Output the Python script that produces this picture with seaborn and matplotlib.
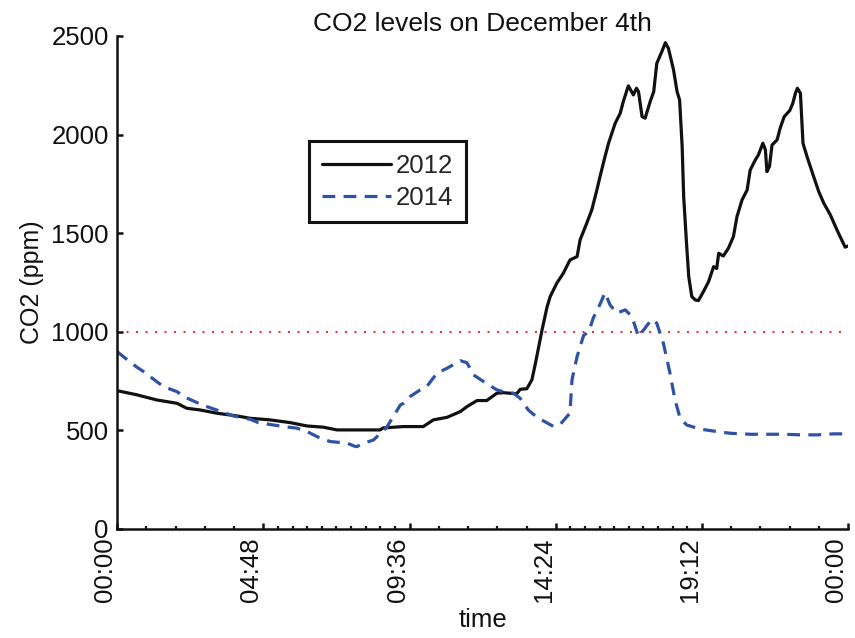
import numpy as np
import pandas as pd
import matplotlib
matplotlib.use("Agg")
import matplotlib.pyplot as plt
import seaborn as sns
from matplotlib.ticker import FixedLocator, FuncFormatter

# minutes after midnight / CO2 in ppm
t_2012 = [0, 39, 78, 118, 137, 164, 196, 236, 262, 301, 341, 374, 406, 433, 479,
          518, 524, 563, 603, 623, 650, 676, 689, 709, 728, 748, 761, 787, 794, 807,
          817, 824, 837, 847, 853, 866, 879, 892, 906, 912, 925, 935, 945, 952, 961,
          968, 981, 991, 997, 1007, 1017, 1023, 1027, 1034, 1040, 1050, 1057, 1063,
          1073, 1080, 1086, 1096, 1103, 1108, 1113, 1116, 1122, 1126, 1132, 1139,
          1145, 1155, 1165, 1175, 1181, 1185, 1194, 1204, 1214, 1221, 1231, 1241,
          1247, 1257, 1263, 1272, 1277, 1280, 1285, 1290, 1300, 1306, 1314, 1325,
          1331, 1336, 1340, 1346, 1351, 1359, 1372, 1382, 1392, 1405, 1418, 1434, 1440]
co2_2012 = [701, 680, 654, 637, 612, 603, 587, 573, 561, 553, 539, 522, 516, 502, 502,
            502, 512, 519, 519, 553, 566, 595, 620, 651, 651, 688, 691, 685, 708, 711,
            756, 840, 1009, 1127, 1178, 1246, 1297, 1364, 1381, 1466, 1550, 1618, 1719, 1795, 1888,
            1956, 2057, 2108, 2167, 2247, 2201, 2235, 2218, 2091, 2083, 2167, 2218, 2361,
            2421, 2466, 2437, 2328, 2218, 2175, 1939, 1685, 1432, 1279, 1178, 1161,
            1158, 1204, 1254, 1330, 1321, 1398, 1384, 1423, 1483, 1584, 1669, 1719,
            1820, 1871, 1896, 1956, 1922, 1812, 1838, 1947, 1973, 2032, 2091, 2122,
            2159, 2209, 2235, 2209, 1956, 1888, 1787, 1711, 1652, 1592, 1516, 1429, 1435]

t_2014 = [0, 12, 39, 52, 78, 91, 118, 131, 157, 177, 196, 229, 262, 278, 308, 328,
          354, 374, 400, 420, 453, 466, 472, 485, 505, 531, 544, 558, 564, 577, 597,
          610, 630, 650, 676, 689, 702, 722, 748, 761, 781, 794, 810, 827, 860, 873,
          892, 896, 906, 919, 929, 938, 952, 961, 971, 984, 1001, 1014, 1027, 1037,
          1053, 1063, 1076, 1089, 1099, 1109, 1122, 1149, 1181, 1208, 1247, 1280,
          1313, 1346, 1379, 1411, 1440]
co2_2014 = [899, 874, 820, 798, 747, 722, 696, 671, 641, 620, 603, 573, 556, 539, 527, 519,
            511, 494, 460, 443, 435, 421, 417, 434, 451, 515, 570, 629, 637, 671, 705,
            722, 790, 815, 853, 843, 781, 747, 705, 696, 688, 662, 603, 566, 519, 531,
            587, 756, 874, 982, 1000, 1070, 1144, 1198, 1136, 1094, 1111, 1077, 975, 1009,
            1063, 1043, 942, 790, 654, 561, 527, 506, 494, 485, 480, 480,
            480, 477, 477, 482, 482]

threshold = 1000
major_minutes = [0, 288, 576, 864, 1152, 1440]
y_ticks = [0, 500, 1000, 1500, 2000, 2500]

df = pd.concat([
    pd.DataFrame({"minutes": t_2012, "co2": co2_2012, "year": "2012"}),
    pd.DataFrame({"minutes": t_2014, "co2": co2_2014, "year": "2014"}),
])

sns.set_style("ticks")
plt.rcParams["font.family"] = ["Liberation Sans", "DejaVu Sans"]

fig = plt.figure(figsize=(8.55, 6.38), dpi=100)
ax = fig.add_axes([0.137, 0.171, 0.855, 0.7726])

blue = "#2d52a6"
sns.lineplot(data=df, x="minutes", y="co2", hue="year", style="year",
             palette={"2012": "#111111", "2014": blue},
             dashes={"2012": "", "2014": (4, 2.6)},
             estimator=None, sort=False, linewidth=2.3, ax=ax)

ax.axhline(threshold, color="red", linestyle=(0, (1.2, 4.5)), linewidth=1.2, zorder=1)

ax.set_xlim(0, 1440)
ax.set_ylim(0, 2500)
ax.set_yticks(y_ticks)
ax.xaxis.set_major_locator(FixedLocator(major_minutes))
minor = np.concatenate([np.arange(0, 288, 57.6), np.arange(288, 576, 28.8),
                        np.arange(576, 864, 57.6), np.arange(864, 1152, 28.8),
                        np.arange(1152, 1440, 57.6)])
ax.xaxis.set_minor_locator(FixedLocator(minor))
ax.xaxis.set_major_formatter(FuncFormatter(
    lambda v, p: "%02d:%02d" % ((int(round(v)) // 60) % 24, int(round(v)) % 60)))

for s in ["top", "right"]:
    ax.spines[s].set_visible(False)
for s in ["left", "bottom"]:
    ax.spines[s].set_linewidth(1.8)
    ax.spines[s].set_color("#111111")

ax.tick_params(axis="both", which="major", direction="in", length=4.5, width=1.8,
               labelsize=18.5, colors="#111111", pad=6)
ax.tick_params(axis="x", which="minor", direction="in", length=2.2, width=1.6,
               colors="#111111")
for lab in ax.get_xticklabels():
    lab.set_rotation(90)
    lab.set_ha("right")

ax.set_title("CO2 levels on December 4th", fontsize=19, pad=3, color="#111111")
ax.set_xlabel("time", fontsize=18.5, color="#111111")
ax.xaxis.set_label_coords(0.5, -0.16)
ax.set_ylabel("CO2 (ppm)", fontsize=18, labelpad=5, color="#111111")

leg = ax.legend(loc="upper left", bbox_to_anchor=(0.262, 0.787), fontsize=18.5,
                handlelength=2.7, handletextpad=0.2, borderpad=0.5,
                labelspacing=0.3, borderaxespad=0, fancybox=False, framealpha=1)
leg.get_frame().set_edgecolor("#111111")
leg.get_frame().set_linewidth(2.2)
for line in leg.get_lines():
    line.set_linewidth(2.3)

fig.savefig("out.png", dpi=100)
